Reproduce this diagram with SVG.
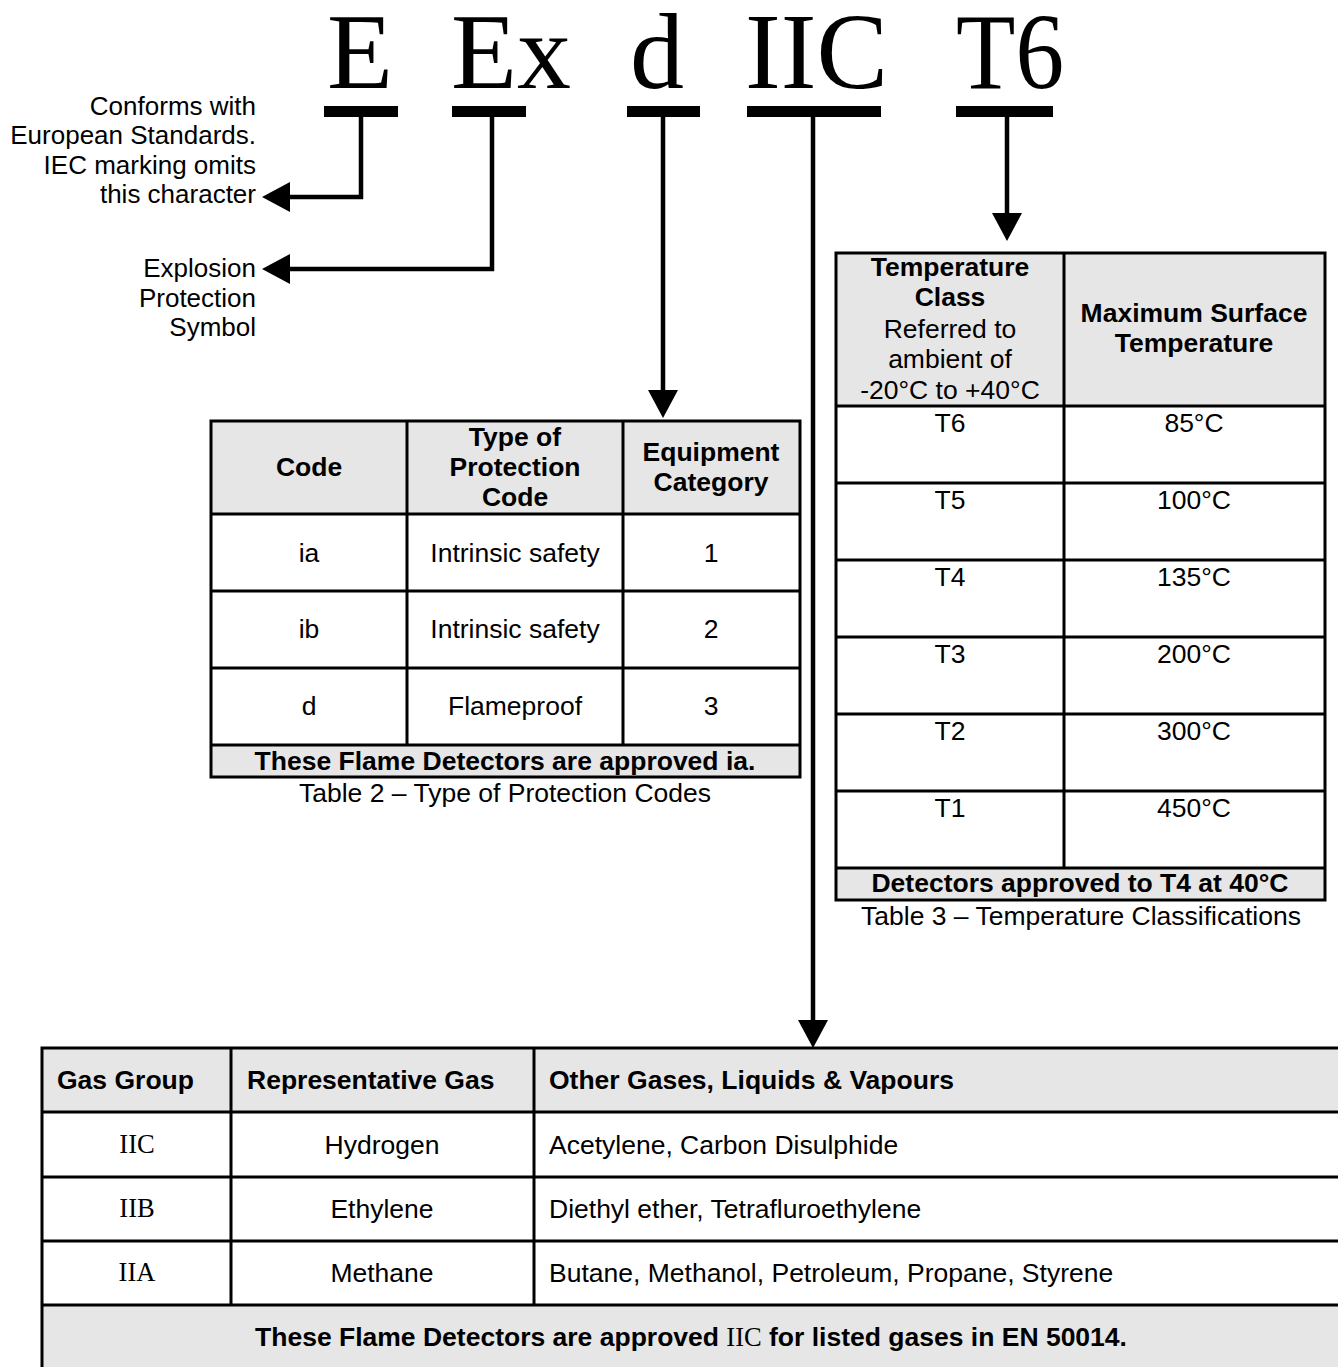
<svg xmlns="http://www.w3.org/2000/svg" width="1338" height="1367" viewBox="0 0 1338 1367">
<style>
  .big { font-family: "Liberation Serif", "Times New Roman", serif; font-size: 108px; fill: #000; }
  .t { font-family: "Liberation Sans", Arial, sans-serif; font-size: 26.5px; fill: #000; }
  .s { font-size: 26px; }
  .b { font-weight: bold; }
  .c { text-anchor: middle; }
  .r { text-anchor: end; }
  .serif { font-family: "Liberation Serif", "Times New Roman", serif; font-weight: normal; }
  .hdr { fill: #e6e6e6; }
  .grid { stroke: #000; stroke-width: 3; fill: none; }
  .bar { fill: #000; }
  .conn { stroke: #000; stroke-width: 4.5; fill: none; }
</style>
<defs>
  <marker id="arrow" markerUnits="userSpaceOnUse" markerWidth="28" markerHeight="30" viewBox="0 0 28 30" refX="0" refY="15" orient="auto">
    <path d="M0,0 L28,15 L0,30 Z" fill="#000"/>
  </marker>
</defs>
<rect width="1338" height="1367" fill="#fff"/>

<g id="marking">
  <text class="big" x="327" y="88">E</text>
  <text class="big" x="451" y="88">Ex</text>
  <text class="big" x="630" y="88">d</text>
  <text class="big" x="745" y="88" textLength="143" lengthAdjust="spacingAndGlyphs">IIC</text>
  <text class="big" x="956" y="88" textLength="108" lengthAdjust="spacingAndGlyphs">T6</text>
  <rect class="bar" x="324" y="106" width="74" height="11"/>
  <rect class="bar" x="452" y="106" width="74" height="11"/>
  <rect class="bar" x="627" y="106" width="73" height="11"/>
  <rect class="bar" x="747" y="106" width="134" height="11"/>
  <rect class="bar" x="956" y="106" width="97" height="11"/>
</g>

<g id="label-european">
  <text class="t s r" x="256" y="115">Conforms with</text>
  <text class="t s r" x="256" y="144">European Standards.</text>
  <text class="t s r" x="256" y="174">IEC marking omits</text>
  <text class="t s r" x="256" y="203">this character</text>
</g>

<g id="label-explosion">
  <text class="t s r" x="256" y="277">Explosion</text>
  <text class="t s r" x="256" y="307">Protection</text>
  <text class="t s r" x="256" y="336">Symbol</text>
</g>

<g id="connectors">
  <path class="conn" d="M361,116 V197 H290" marker-end="url(#arrow)"/>
  <path class="conn" d="M492,116 V269 H290" marker-end="url(#arrow)"/>
  <path class="conn" d="M663,116 V390" marker-end="url(#arrow)"/>
  <path class="conn" d="M813,116 V1020" marker-end="url(#arrow)"/>
  <path class="conn" d="M1007,116 V213" marker-end="url(#arrow)"/>
</g>

<g id="table2">
  <rect class="hdr" x="211" y="421" width="589" height="93"/>
  <rect class="hdr" x="211" y="745" width="589" height="32"/>
  <rect class="grid" x="211" y="421" width="589" height="356"/>
  <line class="grid" x1="211" y1="514" x2="800" y2="514"/>
  <line class="grid" x1="211" y1="591" x2="800" y2="591"/>
  <line class="grid" x1="211" y1="668" x2="800" y2="668"/>
  <line class="grid" x1="211" y1="745" x2="800" y2="745"/>
  <line class="grid" x1="407" y1="421" x2="407" y2="745"/>
  <line class="grid" x1="623" y1="421" x2="623" y2="745"/>
  <text class="t b c" x="309" y="476">Code</text>
  <text class="t b c" x="515" y="446">Type of</text>
  <text class="t b c" x="515" y="476">Protection</text>
  <text class="t b c" x="515" y="506">Code</text>
  <text class="t b c" x="711" y="461">Equipment</text>
  <text class="t b c" x="711" y="491">Category</text>
  <text class="t c" x="309" y="562">ia</text>
  <text class="t c" x="515" y="562">Intrinsic safety</text>
  <text class="t c" x="711" y="562">1</text>
  <text class="t c" x="309" y="638">ib</text>
  <text class="t c" x="515" y="638">Intrinsic safety</text>
  <text class="t c" x="711" y="638">2</text>
  <text class="t c" x="309" y="715">d</text>
  <text class="t c" x="515" y="715">Flameproof</text>
  <text class="t c" x="711" y="715">3</text>
  <text class="t b c" x="505" y="770">These Flame Detectors are approved ia.</text>
  <text class="t c" x="505" y="802">Table 2 – Type of Protection Codes</text>
</g>

<g id="table3">
  <rect class="hdr" x="836" y="253" width="489" height="153"/>
  <rect class="hdr" x="836" y="868" width="489" height="32"/>
  <rect class="grid" x="836" y="253" width="489" height="647"/>
  <line class="grid" x1="836" y1="406" x2="1325" y2="406"/>
  <line class="grid" x1="836" y1="483" x2="1325" y2="483"/>
  <line class="grid" x1="836" y1="560" x2="1325" y2="560"/>
  <line class="grid" x1="836" y1="637" x2="1325" y2="637"/>
  <line class="grid" x1="836" y1="714" x2="1325" y2="714"/>
  <line class="grid" x1="836" y1="791" x2="1325" y2="791"/>
  <line class="grid" x1="836" y1="868" x2="1325" y2="868"/>
  <line class="grid" x1="1064" y1="253" x2="1064" y2="868"/>
  <text class="t b c" x="950" y="276">Temperature</text>
  <text class="t b c" x="950" y="306">Class</text>
  <text class="t c" x="950" y="338">Referred to</text>
  <text class="t c" x="950" y="368">ambient of</text>
  <text class="t c" x="950" y="399">-20°C to +40°C</text>
  <text class="t b c" x="1194" y="322">Maximum Surface</text>
  <text class="t b c" x="1194" y="352">Temperature</text>
  <text class="t c" x="950" y="432">T6</text>
  <text class="t c" x="1194" y="432">85°C</text>
  <text class="t c" x="950" y="509">T5</text>
  <text class="t c" x="1194" y="509">100°C</text>
  <text class="t c" x="950" y="586">T4</text>
  <text class="t c" x="1194" y="586">135°C</text>
  <text class="t c" x="950" y="663">T3</text>
  <text class="t c" x="1194" y="663">200°C</text>
  <text class="t c" x="950" y="740">T2</text>
  <text class="t c" x="1194" y="740">300°C</text>
  <text class="t c" x="950" y="817">T1</text>
  <text class="t c" x="1194" y="817">450°C</text>
  <text class="t b c" x="1080" y="892">Detectors approved to T4 at 40°C</text>
  <text class="t c" x="1081" y="925">Table 3 – Temperature Classifications</text>
</g>

<g id="table-gas">
  <rect class="hdr" x="42" y="1048" width="1298" height="64"/>
  <rect class="hdr" x="42" y="1305" width="1298" height="64"/>
  <rect class="grid" x="42" y="1048" width="1298" height="321"/>
  <line class="grid" x1="42" y1="1112" x2="1340" y2="1112"/>
  <line class="grid" x1="42" y1="1177" x2="1340" y2="1177"/>
  <line class="grid" x1="42" y1="1241" x2="1340" y2="1241"/>
  <line class="grid" x1="42" y1="1305" x2="1340" y2="1305"/>
  <line class="grid" x1="231" y1="1048" x2="231" y2="1305"/>
  <line class="grid" x1="534" y1="1048" x2="534" y2="1305"/>
  <text class="t b" x="57" y="1089">Gas Group</text>
  <text class="t b" x="247" y="1089">Representative Gas</text>
  <text class="t b" x="549" y="1089">Other Gases, Liquids &amp; Vapours</text>
  <text class="t serif c" x="137" y="1153">IIC</text>
  <text class="t c" x="382" y="1154">Hydrogen</text>
  <text class="t" x="549" y="1154">Acetylene, Carbon Disulphide</text>
  <text class="t serif c" x="137" y="1217">IIB</text>
  <text class="t c" x="382" y="1218">Ethylene</text>
  <text class="t" x="549" y="1218">Diethyl ether, Tetrafluroethylene</text>
  <text class="t serif c" x="137" y="1281">IIA</text>
  <text class="t c" x="382" y="1282">Methane</text>
  <text class="t" x="549" y="1282">Butane, Methanol, Petroleum, Propane, Styrene</text>
  <text class="t b c" x="691" y="1346">These Flame Detectors are approved <tspan class="serif">IIC</tspan> for listed gases in EN 50014.</text>
</g>
</svg>
